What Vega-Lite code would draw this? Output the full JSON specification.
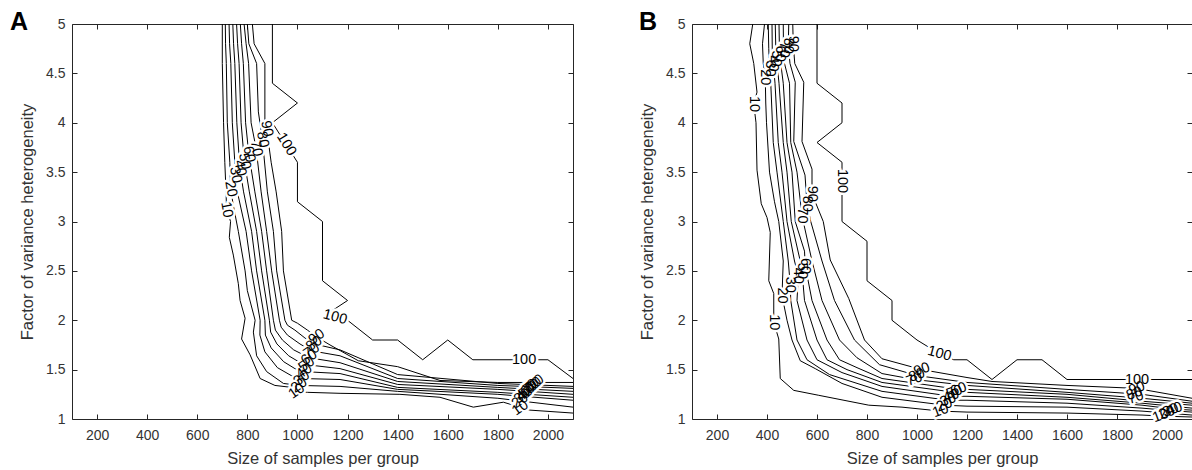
{
"$schema": "https://vega.github.io/schema/vega-lite/v6.json",
"padding": {"left": 10, "top": 10, "right": 2, "bottom": 2},
"spacing": 64,
"config": {
  "view": {"stroke": null},
  "font": "Liberation Sans",
  "axis": {"grid": false, "domainColor": "#262626", "tickColor": "#262626", "labelColor": "#333333", "titleColor": "#333333", "labelFont": "Liberation Sans", "titleFont": "Liberation Sans", "labelFontSize": 14, "titleFontSize": 16.5, "titleFontWeight": "normal", "tickSize": -5, "labelPadding": 12},
  "axisBottom": {"labelPadding": 14},
  "title": {"font": "Liberation Sans", "fontSize": 25, "fontWeight": "bold", "color": "#000000", "anchor": "start", "frame": "group", "offset": -18}
},
"datasets": {
"lines": [
{"p":"A","l":10,"o":0,"x":700,"y":5},{"p":"A","l":10,"o":1,"x":700,"y":4.6},{"p":"A","l":10,"o":2,"x":705,"y":4.0},{"p":"A","l":10,"o":3,"x":710,"y":3.6},{"p":"A","l":10,"o":4,"x":715,"y":3.3},{"p":"A","l":10,"o":5,"x":717,"y":3.12},{"p":"A","l":10,"o":6,"x":733,"y":3.0},{"p":"A","l":10,"o":7,"x":728,"y":2.84},{"p":"A","l":10,"o":8,"x":744,"y":2.66},{"p":"A","l":10,"o":9,"x":764,"y":2.37},{"p":"A","l":10,"o":10,"x":771,"y":2.2},{"p":"A","l":10,"o":11,"x":791,"y":2.02},{"p":"A","l":10,"o":12,"x":777,"y":1.81},{"p":"A","l":10,"o":13,"x":811,"y":1.65},{"p":"A","l":10,"o":14,"x":851,"y":1.41},{"p":"A","l":10,"o":15,"x":910,"y":1.34},{"p":"A","l":10,"o":16,"x":977,"y":1.32},{"p":"A","l":10,"o":17,"x":997,"y":1.28},{"p":"A","l":10,"o":18,"x":1040,"y":1.27},{"p":"A","l":10,"o":19,"x":1170,"y":1.26},{"p":"A","l":10,"o":20,"x":1409,"y":1.25},{"p":"A","l":10,"o":21,"x":1569,"y":1.22},{"p":"A","l":10,"o":22,"x":1702,"y":1.12},{"p":"A","l":10,"o":23,"x":1822,"y":1.17},{"p":"A","l":10,"o":24,"x":1862,"y":1.14},{"p":"A","l":10,"o":25,"x":1890,"y":1.11},{"p":"A","l":10,"o":26,"x":1928,"y":1.09},{"p":"A","l":10,"o":27,"x":2100,"y":1.06},
{"p":"A","l":20,"o":0,"x":712,"y":5},{"p":"A","l":20,"o":1,"x":713,"y":4.8},{"p":"A","l":20,"o":2,"x":716,"y":4.6},{"p":"A","l":20,"o":3,"x":720,"y":4.0},{"p":"A","l":20,"o":4,"x":730,"y":3.6},{"p":"A","l":20,"o":5,"x":733,"y":3.33},{"p":"A","l":20,"o":6,"x":745,"y":3.15},{"p":"A","l":20,"o":7,"x":764,"y":2.9},{"p":"A","l":20,"o":8,"x":791,"y":2.5},{"p":"A","l":20,"o":9,"x":800,"y":2.3},{"p":"A","l":20,"o":10,"x":831,"y":2.0},{"p":"A","l":20,"o":11,"x":824,"y":1.88},{"p":"A","l":20,"o":12,"x":837,"y":1.64},{"p":"A","l":20,"o":13,"x":877,"y":1.48},{"p":"A","l":20,"o":14,"x":944,"y":1.36},{"p":"A","l":20,"o":15,"x":1007,"y":1.34},{"p":"A","l":20,"o":16,"x":1170,"y":1.33},{"p":"A","l":20,"o":17,"x":1400,"y":1.28},{"p":"A","l":20,"o":18,"x":1800,"y":1.21},{"p":"A","l":20,"o":19,"x":1889,"y":1.183},{"p":"A","l":20,"o":20,"x":2100,"y":1.12},
{"p":"A","l":30,"o":0,"x":727,"y":5},{"p":"A","l":30,"o":1,"x":729,"y":4.8},{"p":"A","l":30,"o":2,"x":734,"y":4.6},{"p":"A","l":30,"o":3,"x":740,"y":4.0},{"p":"A","l":30,"o":4,"x":750,"y":3.6},{"p":"A","l":30,"o":5,"x":752,"y":3.47},{"p":"A","l":30,"o":6,"x":760,"y":3.3},{"p":"A","l":30,"o":7,"x":795,"y":2.9},{"p":"A","l":30,"o":8,"x":817,"y":2.5},{"p":"A","l":30,"o":9,"x":851,"y":2.0},{"p":"A","l":30,"o":10,"x":850,"y":1.85},{"p":"A","l":30,"o":11,"x":870,"y":1.68},{"p":"A","l":30,"o":12,"x":920,"y":1.52},{"p":"A","l":30,"o":13,"x":975,"y":1.44},{"p":"A","l":30,"o":14,"x":1017,"y":1.41},{"p":"A","l":30,"o":15,"x":1170,"y":1.40},{"p":"A","l":30,"o":16,"x":1400,"y":1.30},{"p":"A","l":30,"o":17,"x":1800,"y":1.25},{"p":"A","l":30,"o":18,"x":1898,"y":1.23},{"p":"A","l":30,"o":19,"x":2100,"y":1.19},
{"p":"A","l":40,"o":0,"x":742,"y":5},{"p":"A","l":40,"o":1,"x":745,"y":4.8},{"p":"A","l":40,"o":2,"x":750,"y":4.6},{"p":"A","l":40,"o":3,"x":758,"y":4.0},{"p":"A","l":40,"o":4,"x":770,"y":3.54},{"p":"A","l":40,"o":5,"x":785,"y":3.3},{"p":"A","l":40,"o":6,"x":817,"y":2.9},{"p":"A","l":40,"o":7,"x":837,"y":2.5},{"p":"A","l":40,"o":8,"x":870,"y":2.0},{"p":"A","l":40,"o":9,"x":872,"y":1.85},{"p":"A","l":40,"o":10,"x":895,"y":1.72},{"p":"A","l":40,"o":11,"x":945,"y":1.58},{"p":"A","l":40,"o":12,"x":990,"y":1.51},{"p":"A","l":40,"o":13,"x":1027,"y":1.48},{"p":"A","l":40,"o":14,"x":1170,"y":1.46},{"p":"A","l":40,"o":15,"x":1400,"y":1.32},{"p":"A","l":40,"o":16,"x":1800,"y":1.27},{"p":"A","l":40,"o":17,"x":1907,"y":1.252},{"p":"A","l":40,"o":18,"x":2100,"y":1.22},
{"p":"A","l":50,"o":0,"x":757,"y":5},{"p":"A","l":50,"o":1,"x":761,"y":4.8},{"p":"A","l":50,"o":2,"x":767,"y":4.6},{"p":"A","l":50,"o":3,"x":775,"y":4.0},{"p":"A","l":50,"o":4,"x":788,"y":3.61},{"p":"A","l":50,"o":5,"x":808,"y":3.3},{"p":"A","l":50,"o":6,"x":837,"y":2.9},{"p":"A","l":50,"o":7,"x":857,"y":2.5},{"p":"A","l":50,"o":8,"x":888,"y":2.0},{"p":"A","l":50,"o":9,"x":893,"y":1.88},{"p":"A","l":50,"o":10,"x":918,"y":1.76},{"p":"A","l":50,"o":11,"x":965,"y":1.64},{"p":"A","l":50,"o":12,"x":1005,"y":1.58},{"p":"A","l":50,"o":13,"x":1037,"y":1.55},{"p":"A","l":50,"o":14,"x":1170,"y":1.51},{"p":"A","l":50,"o":15,"x":1400,"y":1.35},{"p":"A","l":50,"o":16,"x":1800,"y":1.30},{"p":"A","l":50,"o":17,"x":1916,"y":1.281},{"p":"A","l":50,"o":18,"x":2100,"y":1.25},
{"p":"A","l":60,"o":0,"x":772,"y":5},{"p":"A","l":60,"o":1,"x":777,"y":4.8},{"p":"A","l":60,"o":2,"x":784,"y":4.6},{"p":"A","l":60,"o":3,"x":793,"y":4.0},{"p":"A","l":60,"o":4,"x":806,"y":3.68},{"p":"A","l":60,"o":5,"x":830,"y":3.3},{"p":"A","l":60,"o":6,"x":857,"y":2.9},{"p":"A","l":60,"o":7,"x":877,"y":2.5},{"p":"A","l":60,"o":8,"x":904,"y":2.0},{"p":"A","l":60,"o":9,"x":912,"y":1.9},{"p":"A","l":60,"o":10,"x":940,"y":1.8},{"p":"A","l":60,"o":11,"x":985,"y":1.70},{"p":"A","l":60,"o":12,"x":1047,"y":1.62},{"p":"A","l":60,"o":13,"x":1170,"y":1.57},{"p":"A","l":60,"o":14,"x":1400,"y":1.38},{"p":"A","l":60,"o":15,"x":1800,"y":1.32},{"p":"A","l":60,"o":16,"x":1925,"y":1.303},{"p":"A","l":60,"o":17,"x":2100,"y":1.28},
{"p":"A","l":70,"o":0,"x":787,"y":5},{"p":"A","l":70,"o":1,"x":795,"y":4.8},{"p":"A","l":70,"o":2,"x":805,"y":4.6},{"p":"A","l":70,"o":3,"x":815,"y":4.0},{"p":"A","l":70,"o":4,"x":835,"y":3.74},{"p":"A","l":70,"o":5,"x":855,"y":3.3},{"p":"A","l":70,"o":6,"x":877,"y":2.9},{"p":"A","l":70,"o":7,"x":897,"y":2.5},{"p":"A","l":70,"o":8,"x":928,"y":2.0},{"p":"A","l":70,"o":9,"x":935,"y":1.93},{"p":"A","l":70,"o":10,"x":960,"y":1.85},{"p":"A","l":70,"o":11,"x":1010,"y":1.76},{"p":"A","l":70,"o":12,"x":1057,"y":1.69},{"p":"A","l":70,"o":13,"x":1170,"y":1.64},{"p":"A","l":70,"o":14,"x":1400,"y":1.41},{"p":"A","l":70,"o":15,"x":1800,"y":1.34},{"p":"A","l":70,"o":16,"x":1934,"y":1.327},{"p":"A","l":70,"o":17,"x":2100,"y":1.31},
{"p":"A","l":80,"o":0,"x":800,"y":5},{"p":"A","l":80,"o":1,"x":806,"y":4.8},{"p":"A","l":80,"o":2,"x":837,"y":4.6},{"p":"A","l":80,"o":3,"x":844,"y":4.11},{"p":"A","l":80,"o":4,"x":860,"y":3.83},{"p":"A","l":80,"o":5,"x":880,"y":3.3},{"p":"A","l":80,"o":6,"x":904,"y":2.9},{"p":"A","l":80,"o":7,"x":917,"y":2.5},{"p":"A","l":80,"o":8,"x":950,"y":2.0},{"p":"A","l":80,"o":9,"x":960,"y":1.95},{"p":"A","l":80,"o":10,"x":990,"y":1.9},{"p":"A","l":80,"o":11,"x":1030,"y":1.82},{"p":"A","l":80,"o":12,"x":1067,"y":1.76},{"p":"A","l":80,"o":13,"x":1170,"y":1.70},{"p":"A","l":80,"o":14,"x":1400,"y":1.45},{"p":"A","l":80,"o":15,"x":1800,"y":1.36},{"p":"A","l":80,"o":16,"x":1943,"y":1.346},{"p":"A","l":80,"o":17,"x":2100,"y":1.33},
{"p":"A","l":90,"o":0,"x":820,"y":5},{"p":"A","l":90,"o":1,"x":827,"y":4.8},{"p":"A","l":90,"o":2,"x":870,"y":4.6},{"p":"A","l":90,"o":3,"x":870,"y":4.0},{"p":"A","l":90,"o":4,"x":877,"y":3.94},{"p":"A","l":90,"o":5,"x":895,"y":3.6},{"p":"A","l":90,"o":6,"x":915,"y":3.3},{"p":"A","l":90,"o":7,"x":937,"y":2.9},{"p":"A","l":90,"o":8,"x":944,"y":2.5},{"p":"A","l":90,"o":9,"x":977,"y":2.0},{"p":"A","l":90,"o":10,"x":1000,"y":1.97},{"p":"A","l":90,"o":11,"x":1040,"y":1.9},{"p":"A","l":90,"o":12,"x":1077,"y":1.83},{"p":"A","l":90,"o":13,"x":1130,"y":1.75},{"p":"A","l":90,"o":14,"x":1243,"y":1.59},{"p":"A","l":90,"o":15,"x":1400,"y":1.53},{"p":"A","l":90,"o":16,"x":1569,"y":1.39},{"p":"A","l":90,"o":17,"x":1800,"y":1.37},{"p":"A","l":90,"o":18,"x":1952,"y":1.37},{"p":"A","l":90,"o":19,"x":2100,"y":1.37},
{"p":"A","l":100,"o":0,"x":900,"y":5},{"p":"A","l":100,"o":1,"x":900,"y":4.4},{"p":"A","l":100,"o":2,"x":1000,"y":4.2},{"p":"A","l":100,"o":3,"x":900,"y":4.0},{"p":"A","l":100,"o":4,"x":955,"y":3.78},{"p":"A","l":100,"o":5,"x":1000,"y":3.6},{"p":"A","l":100,"o":6,"x":1000,"y":3.2},{"p":"A","l":100,"o":7,"x":1100,"y":3.0},{"p":"A","l":100,"o":8,"x":1100,"y":2.4},{"p":"A","l":100,"o":9,"x":1200,"y":2.2},{"p":"A","l":100,"o":10,"x":1110,"y":2.05},{"p":"A","l":100,"o":11,"x":1150,"y":2.03},{"p":"A","l":100,"o":12,"x":1200,"y":2.0},{"p":"A","l":100,"o":13,"x":1300,"y":1.8},{"p":"A","l":100,"o":14,"x":1400,"y":1.8},{"p":"A","l":100,"o":15,"x":1500,"y":1.6},{"p":"A","l":100,"o":16,"x":1600,"y":1.8},{"p":"A","l":100,"o":17,"x":1700,"y":1.6},{"p":"A","l":100,"o":18,"x":1905,"y":1.6},{"p":"A","l":100,"o":19,"x":2000,"y":1.6},{"p":"A","l":100,"o":20,"x":2100,"y":1.41},
{"p":"B","l":10,"o":0,"x":343,"y":5},{"p":"B","l":10,"o":1,"x":331,"y":4.8},{"p":"B","l":10,"o":2,"x":347,"y":4.6},{"p":"B","l":10,"o":3,"x":360,"y":4.31},{"p":"B","l":10,"o":4,"x":347,"y":4.19},{"p":"B","l":10,"o":5,"x":356,"y":4.0},{"p":"B","l":10,"o":6,"x":360,"y":3.52},{"p":"B","l":10,"o":7,"x":377,"y":3.18},{"p":"B","l":10,"o":8,"x":400,"y":3.04},{"p":"B","l":10,"o":9,"x":413,"y":2.89},{"p":"B","l":10,"o":10,"x":407,"y":2.4},{"p":"B","l":10,"o":11,"x":427,"y":2.27},{"p":"B","l":10,"o":12,"x":427,"y":1.98},{"p":"B","l":10,"o":13,"x":447,"y":1.81},{"p":"B","l":10,"o":14,"x":453,"y":1.41},{"p":"B","l":10,"o":15,"x":507,"y":1.29},{"p":"B","l":10,"o":16,"x":607,"y":1.24},{"p":"B","l":10,"o":17,"x":807,"y":1.14},{"p":"B","l":10,"o":18,"x":940,"y":1.12},{"p":"B","l":10,"o":19,"x":1095,"y":1.08},{"p":"B","l":10,"o":20,"x":1200,"y":1.07},{"p":"B","l":10,"o":21,"x":1600,"y":1.06},{"p":"B","l":10,"o":22,"x":1900,"y":1.04},{"p":"B","l":10,"o":23,"x":1975,"y":1.03},{"p":"B","l":10,"o":24,"x":2100,"y":1.02},
{"p":"B","l":20,"o":0,"x":390,"y":5},{"p":"B","l":20,"o":1,"x":382,"y":4.8},{"p":"B","l":20,"o":2,"x":385,"y":4.6},{"p":"B","l":20,"o":3,"x":393,"y":4.46},{"p":"B","l":20,"o":4,"x":395,"y":4.2},{"p":"B","l":20,"o":5,"x":398,"y":4.0},{"p":"B","l":20,"o":6,"x":410,"y":3.5},{"p":"B","l":20,"o":7,"x":430,"y":3.2},{"p":"B","l":20,"o":8,"x":447,"y":3.0},{"p":"B","l":20,"o":9,"x":465,"y":2.6},{"p":"B","l":20,"o":10,"x":460,"y":2.25},{"p":"B","l":20,"o":11,"x":480,"y":2.0},{"p":"B","l":20,"o":12,"x":500,"y":1.8},{"p":"B","l":20,"o":13,"x":533,"y":1.59},{"p":"B","l":20,"o":14,"x":593,"y":1.51},{"p":"B","l":20,"o":15,"x":700,"y":1.36},{"p":"B","l":20,"o":16,"x":860,"y":1.22},{"p":"B","l":20,"o":17,"x":1110,"y":1.14},{"p":"B","l":20,"o":18,"x":1200,"y":1.13},{"p":"B","l":20,"o":19,"x":1600,"y":1.12},{"p":"B","l":20,"o":20,"x":1900,"y":1.08},{"p":"B","l":20,"o":21,"x":2000,"y":1.06},{"p":"B","l":20,"o":22,"x":2100,"y":1.04},
{"p":"B","l":30,"o":0,"x":405,"y":5},{"p":"B","l":30,"o":1,"x":407,"y":4.75},{"p":"B","l":30,"o":2,"x":410,"y":4.55},{"p":"B","l":30,"o":3,"x":415,"y":4.4},{"p":"B","l":30,"o":4,"x":425,"y":3.8},{"p":"B","l":30,"o":5,"x":440,"y":3.5},{"p":"B","l":30,"o":6,"x":465,"y":3.0},{"p":"B","l":30,"o":7,"x":485,"y":2.6},{"p":"B","l":30,"o":8,"x":493,"y":2.36},{"p":"B","l":30,"o":9,"x":495,"y":2.2},{"p":"B","l":30,"o":10,"x":520,"y":1.8},{"p":"B","l":30,"o":11,"x":560,"y":1.6},{"p":"B","l":30,"o":12,"x":650,"y":1.45},{"p":"B","l":30,"o":13,"x":860,"y":1.28},{"p":"B","l":30,"o":14,"x":1125,"y":1.19},{"p":"B","l":30,"o":15,"x":1200,"y":1.19},{"p":"B","l":30,"o":16,"x":1600,"y":1.16},{"p":"B","l":30,"o":17,"x":1900,"y":1.11},{"p":"B","l":30,"o":18,"x":2015,"y":1.085},{"p":"B","l":30,"o":19,"x":2100,"y":1.07},
{"p":"B","l":40,"o":0,"x":420,"y":5},{"p":"B","l":40,"o":1,"x":421,"y":4.75},{"p":"B","l":40,"o":2,"x":425,"y":4.6},{"p":"B","l":40,"o":3,"x":432,"y":4.4},{"p":"B","l":40,"o":4,"x":445,"y":3.8},{"p":"B","l":40,"o":5,"x":460,"y":3.5},{"p":"B","l":40,"o":6,"x":480,"y":3.0},{"p":"B","l":40,"o":7,"x":510,"y":2.6},{"p":"B","l":40,"o":8,"x":525,"y":2.45},{"p":"B","l":40,"o":9,"x":520,"y":2.2},{"p":"B","l":40,"o":10,"x":560,"y":1.8},{"p":"B","l":40,"o":11,"x":600,"y":1.6},{"p":"B","l":40,"o":12,"x":700,"y":1.47},{"p":"B","l":40,"o":13,"x":860,"y":1.33},{"p":"B","l":40,"o":14,"x":1137,"y":1.23},{"p":"B","l":40,"o":15,"x":1200,"y":1.23},{"p":"B","l":40,"o":16,"x":1600,"y":1.20},{"p":"B","l":40,"o":17,"x":1900,"y":1.14},{"p":"B","l":40,"o":18,"x":2030,"y":1.10},{"p":"B","l":40,"o":19,"x":2100,"y":1.09},
{"p":"B","l":50,"o":0,"x":433,"y":5},{"p":"B","l":50,"o":1,"x":436,"y":4.65},{"p":"B","l":50,"o":2,"x":440,"y":4.6},{"p":"B","l":50,"o":3,"x":448,"y":4.4},{"p":"B","l":50,"o":4,"x":465,"y":3.8},{"p":"B","l":50,"o":5,"x":480,"y":3.5},{"p":"B","l":50,"o":6,"x":497,"y":3.0},{"p":"B","l":50,"o":7,"x":533,"y":2.6},{"p":"B","l":50,"o":8,"x":540,"y":2.5},{"p":"B","l":50,"o":9,"x":550,"y":2.2},{"p":"B","l":50,"o":10,"x":600,"y":1.8},{"p":"B","l":50,"o":11,"x":640,"y":1.6},{"p":"B","l":50,"o":12,"x":720,"y":1.5},{"p":"B","l":50,"o":13,"x":860,"y":1.37},{"p":"B","l":50,"o":14,"x":1150,"y":1.27},{"p":"B","l":50,"o":15,"x":1200,"y":1.27},{"p":"B","l":50,"o":16,"x":1600,"y":1.22},{"p":"B","l":50,"o":17,"x":1900,"y":1.16},{"p":"B","l":50,"o":18,"x":2100,"y":1.11},
{"p":"B","l":60,"o":0,"x":448,"y":5},{"p":"B","l":60,"o":1,"x":450,"y":4.7},{"p":"B","l":60,"o":2,"x":455,"y":4.6},{"p":"B","l":60,"o":3,"x":465,"y":4.4},{"p":"B","l":60,"o":4,"x":480,"y":3.8},{"p":"B","l":60,"o":5,"x":500,"y":3.5},{"p":"B","l":60,"o":6,"x":513,"y":3.0},{"p":"B","l":60,"o":7,"x":550,"y":2.7},{"p":"B","l":60,"o":8,"x":553,"y":2.55},{"p":"B","l":60,"o":9,"x":580,"y":2.2},{"p":"B","l":60,"o":10,"x":640,"y":1.8},{"p":"B","l":60,"o":11,"x":690,"y":1.6},{"p":"B","l":60,"o":12,"x":760,"y":1.52},{"p":"B","l":60,"o":13,"x":860,"y":1.41},{"p":"B","l":60,"o":14,"x":1167,"y":1.30},{"p":"B","l":60,"o":15,"x":1200,"y":1.30},{"p":"B","l":60,"o":16,"x":1600,"y":1.25},{"p":"B","l":60,"o":17,"x":1900,"y":1.18},{"p":"B","l":60,"o":18,"x":2100,"y":1.14},
{"p":"B","l":70,"o":0,"x":465,"y":5},{"p":"B","l":70,"o":1,"x":466,"y":4.74},{"p":"B","l":70,"o":2,"x":470,"y":4.6},{"p":"B","l":70,"o":3,"x":490,"y":4.4},{"p":"B","l":70,"o":4,"x":495,"y":3.8},{"p":"B","l":70,"o":5,"x":520,"y":3.5},{"p":"B","l":70,"o":6,"x":540,"y":3.06},{"p":"B","l":70,"o":7,"x":545,"y":3.0},{"p":"B","l":70,"o":8,"x":580,"y":2.6},{"p":"B","l":70,"o":9,"x":620,"y":2.2},{"p":"B","l":70,"o":10,"x":690,"y":1.8},{"p":"B","l":70,"o":11,"x":760,"y":1.62},{"p":"B","l":70,"o":12,"x":860,"y":1.46},{"p":"B","l":70,"o":13,"x":990,"y":1.40},{"p":"B","l":70,"o":14,"x":1200,"y":1.34},{"p":"B","l":70,"o":15,"x":1600,"y":1.27},{"p":"B","l":70,"o":16,"x":1875,"y":1.215},{"p":"B","l":70,"o":17,"x":1900,"y":1.21},{"p":"B","l":70,"o":18,"x":2100,"y":1.16},
{"p":"B","l":80,"o":0,"x":487,"y":5},{"p":"B","l":80,"o":1,"x":485,"y":4.78},{"p":"B","l":80,"o":2,"x":492,"y":4.6},{"p":"B","l":80,"o":3,"x":513,"y":4.41},{"p":"B","l":80,"o":4,"x":507,"y":3.81},{"p":"B","l":80,"o":5,"x":552,"y":3.47},{"p":"B","l":80,"o":6,"x":560,"y":3.18},{"p":"B","l":80,"o":7,"x":575,"y":3.0},{"p":"B","l":80,"o":8,"x":620,"y":2.6},{"p":"B","l":80,"o":9,"x":670,"y":2.2},{"p":"B","l":80,"o":10,"x":750,"y":1.8},{"p":"B","l":80,"o":11,"x":850,"y":1.55},{"p":"B","l":80,"o":12,"x":1000,"y":1.44},{"p":"B","l":80,"o":13,"x":1200,"y":1.37},{"p":"B","l":80,"o":14,"x":1600,"y":1.30},{"p":"B","l":80,"o":15,"x":1870,"y":1.255},{"p":"B","l":80,"o":16,"x":1900,"y":1.25},{"p":"B","l":80,"o":17,"x":2100,"y":1.18},
{"p":"B","l":90,"o":0,"x":503,"y":5},{"p":"B","l":90,"o":1,"x":505,"y":4.8},{"p":"B","l":90,"o":2,"x":511,"y":4.6},{"p":"B","l":90,"o":3,"x":547,"y":4.41},{"p":"B","l":90,"o":4,"x":540,"y":3.81},{"p":"B","l":90,"o":5,"x":580,"y":3.53},{"p":"B","l":90,"o":6,"x":580,"y":3.28},{"p":"B","l":90,"o":7,"x":625,"y":3.0},{"p":"B","l":90,"o":8,"x":653,"y":2.61},{"p":"B","l":90,"o":9,"x":727,"y":2.22},{"p":"B","l":90,"o":10,"x":790,"y":1.8},{"p":"B","l":90,"o":11,"x":860,"y":1.61},{"p":"B","l":90,"o":12,"x":1020,"y":1.50},{"p":"B","l":90,"o":13,"x":1200,"y":1.42},{"p":"B","l":90,"o":14,"x":1300,"y":1.38},{"p":"B","l":90,"o":15,"x":1600,"y":1.34},{"p":"B","l":90,"o":16,"x":1880,"y":1.31},{"p":"B","l":90,"o":17,"x":1900,"y":1.30},{"p":"B","l":90,"o":18,"x":2100,"y":1.21},
{"p":"B","l":100,"o":0,"x":600,"y":5},{"p":"B","l":100,"o":1,"x":600,"y":4.4},{"p":"B","l":100,"o":2,"x":700,"y":4.2},{"p":"B","l":100,"o":3,"x":700,"y":4.0},{"p":"B","l":100,"o":4,"x":600,"y":3.8},{"p":"B","l":100,"o":5,"x":700,"y":3.6},{"p":"B","l":100,"o":6,"x":700,"y":3.0},{"p":"B","l":100,"o":7,"x":800,"y":2.8},{"p":"B","l":100,"o":8,"x":800,"y":2.4},{"p":"B","l":100,"o":9,"x":900,"y":2.2},{"p":"B","l":100,"o":10,"x":900,"y":2.0},{"p":"B","l":100,"o":11,"x":1000,"y":1.8},{"p":"B","l":100,"o":12,"x":1090,"y":1.66},{"p":"B","l":100,"o":13,"x":1147,"y":1.6},{"p":"B","l":100,"o":14,"x":1200,"y":1.6},{"p":"B","l":100,"o":15,"x":1300,"y":1.4},{"p":"B","l":100,"o":16,"x":1400,"y":1.6},{"p":"B","l":100,"o":17,"x":1500,"y":1.6},{"p":"B","l":100,"o":18,"x":1600,"y":1.4},{"p":"B","l":100,"o":19,"x":2100,"y":1.4}
],
"labels": [
{"p":"A","t":"10","k":"steep","x":717,"y":3.12},{"p":"A","t":"20","k":"steep","x":733,"y":3.33},{"p":"A","t":"30","k":"steep","x":752,"y":3.47},{"p":"A","t":"40","k":"steep","x":770,"y":3.54},{"p":"A","t":"50","k":"steep","x":788,"y":3.61},{"p":"A","t":"60","k":"steep","x":806,"y":3.68},{"p":"A","t":"70","k":"steep","x":835,"y":3.74},{"p":"A","t":"80","k":"steep","x":860,"y":3.83},{"p":"A","t":"90","k":"steep","x":877,"y":3.94},
{"p":"A","t":"100","k":"fall","x":955,"y":3.78},{"p":"A","t":"100","k":"tilt","x":1150,"y":2.03},{"p":"A","t":"100","k":"flat","x":1905,"y":1.6},
{"p":"A","t":"10","k":"rise","x":997,"y":1.28},{"p":"A","t":"20","k":"rise","x":1007,"y":1.34},{"p":"A","t":"30","k":"rise","x":1017,"y":1.41},{"p":"A","t":"40","k":"rise","x":1027,"y":1.48},{"p":"A","t":"50","k":"rise","x":1037,"y":1.55},{"p":"A","t":"60","k":"rise","x":1047,"y":1.62},{"p":"A","t":"70","k":"rise","x":1057,"y":1.69},{"p":"A","t":"80","k":"rise","x":1067,"y":1.76},{"p":"A","t":"90","k":"rise","x":1077,"y":1.83},
{"p":"A","t":"10","k":"rise","x":1890,"y":1.11},{"p":"A","t":"20","k":"rise","x":1889,"y":1.183},{"p":"A","t":"30","k":"rise","x":1898,"y":1.23},{"p":"A","t":"40","k":"rise","x":1907,"y":1.252},{"p":"A","t":"50","k":"rise","x":1916,"y":1.281},{"p":"A","t":"60","k":"rise","x":1925,"y":1.303},{"p":"A","t":"70","k":"rise","x":1934,"y":1.327},{"p":"A","t":"80","k":"rise","x":1943,"y":1.346},{"p":"A","t":"90","k":"rise","x":1952,"y":1.37},
{"p":"B","t":"10","k":"vert","x":347,"y":4.19},{"p":"B","t":"20","k":"vert","x":393,"y":4.46},{"p":"B","t":"30","k":"vert","x":410,"y":4.55},{"p":"B","t":"40","k":"vert","x":425,"y":4.6},{"p":"B","t":"50","k":"vert","x":436,"y":4.65},{"p":"B","t":"60","k":"vert","x":450,"y":4.7},{"p":"B","t":"70","k":"vert","x":466,"y":4.74},{"p":"B","t":"80","k":"vert","x":485,"y":4.78},{"p":"B","t":"90","k":"vert","x":505,"y":4.8},
{"p":"B","t":"90","k":"vert","x":580,"y":3.28},{"p":"B","t":"80","k":"vert","x":560,"y":3.18},{"p":"B","t":"70","k":"vert","x":540,"y":3.06},
{"p":"B","t":"60","k":"vert","x":553,"y":2.55},{"p":"B","t":"50","k":"vert","x":540,"y":2.5},{"p":"B","t":"40","k":"vert","x":525,"y":2.45},{"p":"B","t":"30","k":"vert","x":493,"y":2.36},{"p":"B","t":"20","k":"vert","x":460,"y":2.25},{"p":"B","t":"10","k":"vert","x":427,"y":1.98},
{"p":"B","t":"100","k":"vert","x":700,"y":3.41},{"p":"B","t":"100","k":"tilt","x":1090,"y":1.66},{"p":"B","t":"100","k":"flat","x":1880,"y":1.40},
{"p":"B","t":"90","k":"rise2","x":1020,"y":1.50},{"p":"B","t":"80","k":"rise2","x":1000,"y":1.44},{"p":"B","t":"70","k":"rise2","x":990,"y":1.40},{"p":"B","t":"60","k":"rise2","x":1167,"y":1.30},{"p":"B","t":"50","k":"rise2","x":1150,"y":1.27},{"p":"B","t":"40","k":"rise2","x":1137,"y":1.23},{"p":"B","t":"30","k":"rise2","x":1125,"y":1.19},{"p":"B","t":"20","k":"rise2","x":1110,"y":1.14},{"p":"B","t":"10","k":"rise2","x":1095,"y":1.08},
{"p":"B","t":"90","k":"rise2","x":1880,"y":1.31},{"p":"B","t":"80","k":"rise2","x":1870,"y":1.255},{"p":"B","t":"70","k":"rise2","x":1875,"y":1.215},{"p":"B","t":"40","k":"rise2","x":2030,"y":1.10},{"p":"B","t":"30","k":"rise2","x":2015,"y":1.085},{"p":"B","t":"20","k":"rise2","x":2000,"y":1.06},{"p":"B","t":"10","k":"rise2","x":1975,"y":1.03}
]
},
"hconcat": [
{
 "width": 501, "height": 395,
 "title": {"text": "A", "dx": -62},
 "layer": [
  {"data": {"name": "lines"}, "transform": [{"filter": "datum.p == 'A'"}],
   "mark": {"type": "line", "color": "#000000", "strokeWidth": 1},
   "encoding": {
    "x": {"field": "x", "type": "quantitative", "scale": {"domain": [100, 2100], "nice": false, "zero": false}, "axis": {"orient": "bottom", "values": [200,400,600,800,1000,1200,1400,1600,1800,2000], "format": "d", "title": "Size of samples per group", "titlePadding": 8}},
    "y": {"field": "y", "type": "quantitative", "scale": {"domain": [1, 5], "nice": false, "zero": false}, "axis": {"orient": "left", "values": [1,1.5,2,2.5,3,3.5,4,4.5,5], "format": "~g", "title": "Factor of variance heterogeneity", "titlePadding": 10}},
    "detail": {"field": "l", "type": "nominal"},
    "order": {"field": "o", "type": "quantitative"}
   }},
  {"data": {"name": "labels"}, "transform": [{"filter": "datum.p == 'A'"}],
   "mark": {"type": "text", "fill": "#ffffff", "stroke": "#ffffff", "strokeWidth": 5, "strokeJoin": "round", "fontSize": 14.5, "font": "Liberation Sans"},
   "encoding": {
    "x": {"field": "x", "type": "quantitative", "axis": null},
    "y": {"field": "y", "type": "quantitative", "axis": null},
    "text": {"field": "t"},
    "angle": {"field": "k", "type": "nominal", "scale": {"type": "ordinal", "domain": ["steep","vert","fall","tilt","flat","rise","rise2"], "range": [80,90,58,15,0,-35,-20]}, "legend": null}
   }},
  {"data": {"name": "labels"}, "transform": [{"filter": "datum.p == 'A'"}],
   "mark": {"type": "text", "fill": "#000000", "fontSize": 14.5, "font": "Liberation Sans"},
   "encoding": {
    "x": {"field": "x", "type": "quantitative", "axis": null},
    "y": {"field": "y", "type": "quantitative", "axis": null},
    "text": {"field": "t"},
    "angle": {"field": "k", "type": "nominal", "scale": {"type": "ordinal", "domain": ["steep","vert","fall","tilt","flat","rise","rise2"], "range": [80,90,58,15,0,-35,-20]}, "legend": null}
   }},
  {"data": {"name": "lines"}, "transform": [{"filter": "datum.p == 'A'"}],
   "mark": {"type": "line", "strokeOpacity": 0},
   "encoding": {
    "x": {"field": "x", "type": "quantitative", "axis": {"orient": "top", "values": [200,400,600,800,1000,1200,1400,1600,1800,2000], "labels": false, "title": null}},
    "y": {"field": "y", "type": "quantitative", "axis": {"orient": "right", "values": [1,1.5,2,2.5,3,3.5,4,4.5,5], "labels": false, "title": null}},
    "detail": {"field": "l", "type": "nominal"},
    "order": {"field": "o", "type": "quantitative"}
   }}
 ],
 "resolve": {"axis": {"x": "independent", "y": "independent"}}
},
{
 "width": 500, "height": 395,
 "title": {"text": "B", "dx": -53},
 "layer": [
  {"data": {"name": "lines"}, "transform": [{"filter": "datum.p == 'B'"}],
   "mark": {"type": "line", "color": "#000000", "strokeWidth": 1},
   "encoding": {
    "x": {"field": "x", "type": "quantitative", "scale": {"domain": [100, 2100], "nice": false, "zero": false}, "axis": {"orient": "bottom", "values": [200,400,600,800,1000,1200,1400,1600,1800,2000], "format": "d", "title": "Size of samples per group", "titlePadding": 8}},
    "y": {"field": "y", "type": "quantitative", "scale": {"domain": [1, 5], "nice": false, "zero": false}, "axis": {"orient": "left", "values": [1,1.5,2,2.5,3,3.5,4,4.5,5], "format": "~g", "title": "Factor of variance heterogeneity", "titlePadding": 10}},
    "detail": {"field": "l", "type": "nominal"},
    "order": {"field": "o", "type": "quantitative"}
   }},
  {"data": {"name": "labels"}, "transform": [{"filter": "datum.p == 'B'"}],
   "mark": {"type": "text", "fill": "#ffffff", "stroke": "#ffffff", "strokeWidth": 5, "strokeJoin": "round", "fontSize": 14.5, "font": "Liberation Sans"},
   "encoding": {
    "x": {"field": "x", "type": "quantitative", "axis": null},
    "y": {"field": "y", "type": "quantitative", "axis": null},
    "text": {"field": "t"},
    "angle": {"field": "k", "type": "nominal", "scale": {"type": "ordinal", "domain": ["steep","vert","fall","tilt","flat","rise","rise2"], "range": [80,90,58,15,0,-35,-20]}, "legend": null}
   }},
  {"data": {"name": "labels"}, "transform": [{"filter": "datum.p == 'B'"}],
   "mark": {"type": "text", "fill": "#000000", "fontSize": 14.5, "font": "Liberation Sans"},
   "encoding": {
    "x": {"field": "x", "type": "quantitative", "axis": null},
    "y": {"field": "y", "type": "quantitative", "axis": null},
    "text": {"field": "t"},
    "angle": {"field": "k", "type": "nominal", "scale": {"type": "ordinal", "domain": ["steep","vert","fall","tilt","flat","rise","rise2"], "range": [80,90,58,15,0,-35,-20]}, "legend": null}
   }},
  {"data": {"name": "lines"}, "transform": [{"filter": "datum.p == 'B'"}],
   "mark": {"type": "line", "strokeOpacity": 0},
   "encoding": {
    "x": {"field": "x", "type": "quantitative", "axis": {"orient": "top", "values": [200,400,600,800,1000,1200,1400,1600,1800,2000], "labels": false, "title": null}},
    "y": {"field": "y", "type": "quantitative", "axis": {"orient": "right", "values": [1,1.5,2,2.5,3,3.5,4,4.5,5], "labels": false, "title": null}},
    "detail": {"field": "l", "type": "nominal"},
    "order": {"field": "o", "type": "quantitative"}
   }}
 ],
 "resolve": {"axis": {"x": "independent", "y": "independent"}}
}
]
}
